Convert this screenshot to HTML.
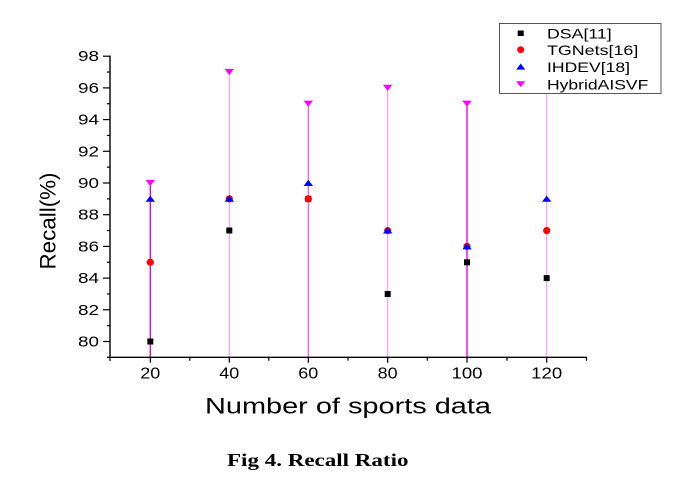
<!DOCTYPE html>
<html>
<head>
<meta charset="utf-8">
<style>
html,body{margin:0;padding:0;background:#fff;}
svg{display:block;}
text{font-family:"Liberation Sans",Arial,sans-serif;fill:#000;}
</style>
</head>
<body>
<svg width="682" height="488" viewBox="0 0 682 488" xmlns="http://www.w3.org/2000/svg">
<rect width="682" height="488" fill="#fff"/>

<!-- drop lines -->
<line x1="150.3" y1="183" x2="150.3" y2="357" stroke="#ee00ee" stroke-width="1.4"/>
<line x1="229.3" y1="72" x2="229.3" y2="357" stroke="#ff88ff" stroke-width="1"/>
<line x1="308.3" y1="104" x2="308.3" y2="357" stroke="#ff44ff" stroke-width="1.2"/>
<line x1="387.7" y1="88" x2="387.7" y2="357" stroke="#ff88ff" stroke-width="1"/>
<line x1="467" y1="104" x2="467" y2="357" stroke="#ee00ee" stroke-width="1.4"/>
<line x1="546.7" y1="56" x2="546.7" y2="357" stroke="#ff88ff" stroke-width="1"/>

<!-- axes -->
<line x1="110" y1="55.5" x2="110" y2="357.3" stroke="#000" stroke-width="1.4"/>
<line x1="107" y1="357.3" x2="587" y2="357.3" stroke="#000" stroke-width="1.4"/>

<!-- y ticks -->
<g stroke="#000" stroke-width="1.2">
<line x1="103" y1="56.2" x2="110" y2="56.2"/>
<line x1="107" y1="72.05" x2="110" y2="72.05"/>
<line x1="103" y1="87.9" x2="110" y2="87.9"/>
<line x1="107" y1="103.75" x2="110" y2="103.75"/>
<line x1="103" y1="119.6" x2="110" y2="119.6"/>
<line x1="107" y1="135.45" x2="110" y2="135.45"/>
<line x1="103" y1="151.3" x2="110" y2="151.3"/>
<line x1="107" y1="167.15" x2="110" y2="167.15"/>
<line x1="103" y1="183" x2="110" y2="183"/>
<line x1="107" y1="198.85" x2="110" y2="198.85"/>
<line x1="103" y1="214.7" x2="110" y2="214.7"/>
<line x1="107" y1="230.55" x2="110" y2="230.55"/>
<line x1="103" y1="246.4" x2="110" y2="246.4"/>
<line x1="107" y1="262.25" x2="110" y2="262.25"/>
<line x1="103" y1="278.1" x2="110" y2="278.1"/>
<line x1="107" y1="293.95" x2="110" y2="293.95"/>
<line x1="103" y1="309.8" x2="110" y2="309.8"/>
<line x1="107" y1="325.65" x2="110" y2="325.65"/>
<line x1="103" y1="341.5" x2="110" y2="341.5"/>
</g>

<!-- x ticks -->
<g stroke="#000" stroke-width="1.2">
<line x1="110" y1="357" x2="110" y2="361"/>
<line x1="150.3" y1="357" x2="150.3" y2="362.7"/>
<line x1="189.8" y1="357" x2="189.8" y2="360.7"/>
<line x1="229.3" y1="357" x2="229.3" y2="362.7"/>
<line x1="268.8" y1="357" x2="268.8" y2="360.7"/>
<line x1="308.3" y1="357" x2="308.3" y2="362.7"/>
<line x1="348" y1="357" x2="348" y2="360.7"/>
<line x1="387.7" y1="357" x2="387.7" y2="362.7"/>
<line x1="427.3" y1="357" x2="427.3" y2="360.7"/>
<line x1="467" y1="357" x2="467" y2="362.7"/>
<line x1="507" y1="357" x2="507" y2="360.7"/>
<line x1="546.7" y1="357" x2="546.7" y2="362.7"/>
<line x1="586.5" y1="357" x2="586.5" y2="360.7"/>
</g>

<!-- y tick labels -->
<g font-size="15" text-anchor="end">
<text x="99" y="61.2" textLength="21" lengthAdjust="spacingAndGlyphs">98</text>
<text x="99" y="92.9" textLength="21" lengthAdjust="spacingAndGlyphs">96</text>
<text x="99" y="124.6" textLength="21" lengthAdjust="spacingAndGlyphs">94</text>
<text x="99" y="156.3" textLength="21" lengthAdjust="spacingAndGlyphs">92</text>
<text x="99" y="188" textLength="21" lengthAdjust="spacingAndGlyphs">90</text>
<text x="99" y="219.7" textLength="21" lengthAdjust="spacingAndGlyphs">88</text>
<text x="99" y="251.4" textLength="21" lengthAdjust="spacingAndGlyphs">86</text>
<text x="99" y="283.1" textLength="21" lengthAdjust="spacingAndGlyphs">84</text>
<text x="99" y="314.8" textLength="21" lengthAdjust="spacingAndGlyphs">82</text>
<text x="99" y="346.5" textLength="21" lengthAdjust="spacingAndGlyphs">80</text>
</g>

<!-- x tick labels -->
<g font-size="15.5" text-anchor="middle">
<text x="150.3" y="378.5" textLength="20" lengthAdjust="spacingAndGlyphs">20</text>
<text x="229.3" y="378.5" textLength="20" lengthAdjust="spacingAndGlyphs">40</text>
<text x="308.3" y="378.5" textLength="20" lengthAdjust="spacingAndGlyphs">60</text>
<text x="387.7" y="378.5" textLength="20" lengthAdjust="spacingAndGlyphs">80</text>
<text x="467" y="378.5" textLength="31" lengthAdjust="spacingAndGlyphs">100</text>
<text x="546.7" y="378.5" textLength="31" lengthAdjust="spacingAndGlyphs">120</text>
</g>

<!-- axis titles -->
<text x="205" y="413.3" font-size="22" textLength="286" lengthAdjust="spacingAndGlyphs">Number of sports data</text>
<text transform="translate(55.5,221) rotate(-90)" font-size="22.5" text-anchor="middle" textLength="97" lengthAdjust="spacingAndGlyphs">Recall(%)</text>

<!-- DSA squares -->
<g fill="#000">
<rect x="147.3" y="338.5" width="6" height="6"/>
<rect x="226.3" y="227.5" width="6" height="6"/>
<rect x="305.3" y="195.9" width="6" height="6"/>
<rect x="384.7" y="291" width="6" height="6"/>
<rect x="464" y="259.3" width="6" height="6"/>
<rect x="543.7" y="275.1" width="6" height="6"/>
</g>

<!-- TGNets circles -->
<g fill="#ff0000">
<circle cx="150.3" cy="262.25" r="3.6"/>
<circle cx="229.3" cy="198.85" r="3.6"/>
<circle cx="308.3" cy="198.85" r="3.6"/>
<circle cx="387.7" cy="230.55" r="3.6"/>
<circle cx="467" cy="246.4" r="3.6"/>
<circle cx="546.7" cy="230.55" r="3.6"/>
</g>

<!-- IHDEV up triangles -->
<g fill="#0000ff">
<polygon points="150.3,195.6 145.6,201.8 155,201.8"/>
<polygon points="229.3,195.6 224.6,201.8 234,201.8"/>
<polygon points="308.3,179.8 303.6,186 313,186"/>
<polygon points="387.7,227.3 383,233.5 392.4,233.5"/>
<polygon points="467,243.2 462.3,249.4 471.7,249.4"/>
<polygon points="546.7,195.6 542,201.8 551.4,201.8"/>
</g>

<!-- Hybrid down triangles -->
<g fill="#ff00ff">
<polygon points="145.6,179.9 155,179.9 150.3,186.1"/>
<polygon points="224.6,68.9 234,68.9 229.3,75.1"/>
<polygon points="303.6,100.6 313,100.6 308.3,106.8"/>
<polygon points="383,84.8 392.4,84.8 387.7,91"/>
<polygon points="462.3,100.6 471.7,100.6 467,106.8"/>
</g>

<!-- legend -->
<rect x="499.5" y="23.5" width="161.5" height="70" fill="#fff" stroke="#555" stroke-width="1"/>
<rect x="517.7" y="30.5" width="6" height="5.5" fill="#000"/>
<circle cx="520.7" cy="49.7" r="3.5" fill="#ff0000"/>
<polygon points="520.7,63.5 516.2,69.6 525.2,69.6" fill="#0000ff"/>
<polygon points="516.2,81.2 525.2,81.2 520.7,87.3" fill="#ff00ff"/>
<g font-size="14">
<text x="547" y="38.3" textLength="64.7" lengthAdjust="spacingAndGlyphs">DSA[11]</text>
<text x="547" y="54.8" textLength="91.3" lengthAdjust="spacingAndGlyphs">TGNets[16]</text>
<text x="547" y="71.9" textLength="83" lengthAdjust="spacingAndGlyphs">IHDEV[18]</text>
<text x="547" y="89.3" textLength="101.3" lengthAdjust="spacingAndGlyphs">HybridAISVF</text>
</g>

<!-- caption -->
<text x="227" y="466" style="font-family:'Liberation Serif','DejaVu Serif',serif;font-weight:bold;font-size:17.5px;" textLength="181.5" lengthAdjust="spacingAndGlyphs">Fig 4. Recall Ratio</text>
</svg>
</body>
</html>
